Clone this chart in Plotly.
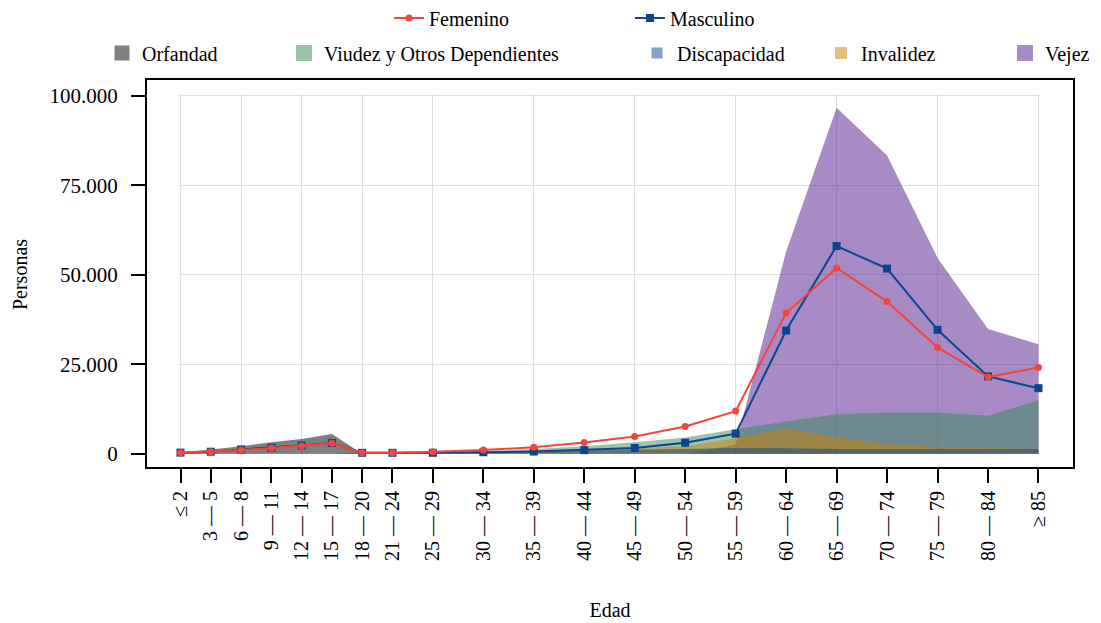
import plotly.graph_objects as go

# ---------------- data ----------------
grupos = ["≤ 2", "3 — 5", "6 — 8", "9 — 11", "12 — 14", "15 — 17", "18 — 20",
          "21 — 24", "25 — 29", "30 — 34", "35 — 39", "40 — 44", "45 — 49",
          "50 — 54", "55 — 59", "60 — 64", "65 — 69", "70 — 74", "75 — 79",
          "80 — 84", "≥ 85"]
edad = [1, 4, 7, 10, 13, 16, 19, 22, 26, 31, 36, 41, 46, 51, 56, 61, 66, 71, 76, 81, 86]

femenino = [300, 560, 1030, 1600, 2150, 2900, 280, 280, 550, 1000, 1800, 3100,
            4800, 7600, 11900, 39300, 51900, 42500, 29700, 21400, 24100]
masculino = [300, 560, 1200, 1700, 2300, 3000, 250, 250, 250, 400, 600, 1000,
             1600, 3050, 5600, 34400, 58000, 51700, 34600, 21600, 18300]

orfandad = [400, 1200, 2100, 3200, 4100, 5500, 0, 0, 0, 0, 0, 0,
            0, 0, 0, 0, 0, 0, 0, 0, 0]
viudez = [0, 0, 0, 0, 0, 0, 100, 200, 400, 800, 1300, 2100,
          3200, 4500, 6800, 9000, 11000, 11500, 11500, 10600, 14900]
discapacidad = [0, 0, 0, 0, 0, 0, 200, 300, 400, 500, 700, 900,
                1100, 1300, 1600, 1500, 1300, 1300, 1300, 1300, 1300]
invalidez = [0, 0, 0, 0, 0, 0, 0, 100, 200, 400, 600, 850,
             1500, 2100, 4300, 7100, 4600, 2700, 1900, 1500, 1300]
vejez = [0, 0, 0, 0, 0, 0, 0, 0, 0, 0, 0, 0,
         0, 0, 2500, 56500, 96600, 83300, 54700, 34800, 30600]

y_ticks = [0, 25000, 50000, 75000, 100000]
y_ticktext = ["0", "25.000", "50.000", "75.000", "100.000"]
x_grid = [1, 7, 13, 19, 26, 36, 46, 56, 66, 76, 86]

# ---------------- style ----------------
W, H = 1101, 623
FONT = "Liberation Serif"
XR = [-2.32, 89.42]
YR = [-3715, 104385]
X2R = [0.85, 86.15]
Y2R = [-450, 100450]
ROJO = "#F5453B"
AZUL = "#0B4591"
C_ORF = "rgba(0,0,0,0.5)"
C_VIU = "rgba(49,137,87,0.5)"
C_DIS = "rgba(11,69,145,0.5)"
C_INV = "rgba(203,129,0,0.5)"
C_VEJ = "rgba(81,23,137,0.5)"

fig = go.Figure()

# invisible trace so the framing axes are drawn
fig.add_trace(go.Scatter(x=[None], y=[None], mode="markers", showlegend=False,
                         hoverinfo="skip", xaxis="x", yaxis="y"))

# areas (draw order)
areas = [("Vejez", vejez, C_VEJ), ("Viudez y Otros Dependientes", viudez, C_VIU),
         ("Invalidez", invalidez, C_INV), ("Discapacidad", discapacidad, C_DIS),
         ("Orfandad", orfandad, C_ORF)]
for nombre, vals, col in areas:
    fig.add_trace(go.Scatter(x=edad, y=vals, fill="tozeroy", fillcolor=col, mode="none",
                             line=dict(width=0), showlegend=False, name=nombre,
                             xaxis="x2", yaxis="y2"))

fig.add_trace(go.Scatter(x=edad, y=masculino, mode="lines+markers", name="Masculino",
                         line=dict(color=AZUL, width=2),
                         marker=dict(symbol="square", size=8, color=AZUL),
                         cliponaxis=False, legend="legend2", xaxis="x2", yaxis="y2"))
fig.add_trace(go.Scatter(x=edad, y=femenino, mode="lines+markers", name="Femenino",
                         line=dict(color=ROJO, width=2),
                         marker=dict(symbol="circle", size=7, color=ROJO),
                         cliponaxis=False, legend="legend", xaxis="x2", yaxis="y2"))

# legend-only patches
patches = [("Orfandad", C_ORF, 15, "legend3"), ("Viudez y Otros Dependientes", C_VIU, 16, "legend4"),
           ("Discapacidad", C_DIS, 11, "legend5"), ("Invalidez", C_INV, 12, "legend6"),
           ("Vejez", C_VEJ, 16, "legend7")]
for nombre, col, sz, lg in patches:
    fig.add_trace(go.Scatter(x=[None], y=[None], mode="markers", name=nombre,
                             marker=dict(symbol="square", size=sz, color=col),
                             legend=lg, xaxis="x2", yaxis="y2"))


def leg(xpx, ypx):
    return dict(x=xpx / W, y=1 - ypx / H, xref="container", yref="container",
                xanchor="left", yanchor="middle", orientation="h",
                bgcolor="rgba(0,0,0,0)", itemsizing="trace",
                font=dict(family=FONT, size=20, color="black"))


x2dom = [(X2R[0] - XR[0]) / (XR[1] - XR[0]), (X2R[1] - XR[0]) / (XR[1] - XR[0])]
y2dom = [(Y2R[0] - YR[0]) / (YR[1] - YR[0]), (Y2R[1] - YR[0]) / (YR[1] - YR[0])]

fig.update_layout(
    width=W, height=H,
    margin=dict(l=147, r=28, t=80, b=156, autoexpand=False),
    paper_bgcolor="white", plot_bgcolor="white",
    font=dict(family=FONT, size=20, color="black"),
    legend=leg(389, 18), legend2=leg(630, 18),
    legend3=leg(102, 53), legend4=leg(284, 53), legend5=leg(637, 53),
    legend6=leg(821, 53), legend7=leg(1005, 53),
    xaxis=dict(domain=[0, 1], range=XR, anchor="y", tickmode="array", tickvals=edad,
               ticktext=grupos, tickangle=-90, ticks="outside", ticklen=14, tickwidth=2,
               tickcolor="black", showline=True, linecolor="black", linewidth=2,
               mirror=True, showgrid=False, zeroline=False,
               tickfont=dict(family=FONT, size=20),
               title=dict(text="Edad", font=dict(family=FONT, size=20), standoff=43)),
    yaxis=dict(domain=[0, 1], range=YR, anchor="x", tickmode="array", tickvals=y_ticks,
               ticktext=y_ticktext, ticks="outside", ticklen=14, tickwidth=2,
               tickcolor="black", showline=True, linecolor="black", linewidth=2,
               mirror=True, showgrid=False, zeroline=False, ticklabelstandoff=9,
               tickfont=dict(family=FONT, size=21)),
    xaxis2=dict(domain=x2dom, range=X2R, anchor="y2", tickmode="array",
                tickvals=x_grid, showticklabels=False, ticks="", showgrid=True,
                gridcolor="#dedede", gridwidth=1, zeroline=False, showline=False),
    yaxis2=dict(domain=y2dom, range=Y2R, anchor="x2", tickmode="array",
                tickvals=y_ticks, showticklabels=False, ticks="", showgrid=True,
                gridcolor="#dedede", gridwidth=1, zeroline=False, showline=False),
    annotations=[dict(text="Personas", textangle=-90, showarrow=False,
                      xref="paper", yref="paper", x=(20 - 147) / 926, y=0.496,
                      xanchor="center", yanchor="middle",
                      font=dict(family=FONT, size=20, color="black"))],
)

fig.write_html("out.html", config={"displayModeBar": False},
               post_script="document.body.style.margin='0';")
